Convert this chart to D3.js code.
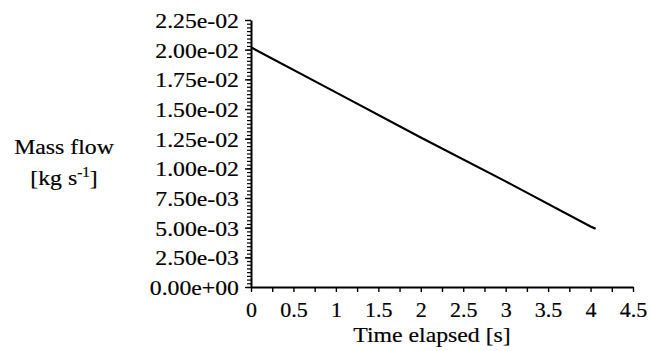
<!DOCTYPE html>
<html>
<head>
<meta charset="utf-8">
<script src="https://cdn.jsdelivr.net/npm/d3@7"></script>
<style>
  body { margin: 0; background: #fff; }
  text { font-family: "Liberation Serif", "Times New Roman", serif; fill: #000; stroke: #000; stroke-width: 0.2px; }
</style>
</head>
<body>
<script>
// values
const timeS = [0, 1, 2, 3, 4, 4.06];
const massFlow = [0.0202, 0.0164, 0.0126, 0.0089, 0.0051, 0.0049];
const xTicks = [0, 0.5, 1, 1.5, 2, 2.5, 3, 3.5, 4, 4.5];
const yTicks = [0, 0.0025, 0.005, 0.0075, 0.01, 0.0125, 0.015, 0.0175, 0.02, 0.0225];

const w = 651, h = 351;
const padL = 251, padR = 633, padT = 20, padB = 287;
const sx = 1.08; // the source type is a little wide

const svg = d3.select('body').append('svg')
  .attr('width', w)
  .attr('height', h);

const x = d3.scaleLinear().domain([0, 4.5]).range([padL, padR]);
const y = d3.scaleLinear().domain([0, 0.0225]).range([padB, padT]);

// minor ticks
const xMinor = d3.range(0, 4.5001, 0.25);
const yMinor = d3.range(0, 0.02251, 0.0025 / 8);

svg.append('g')
  .attr('transform', 'translate(' + padL + ',0)')
  .call(d3.axisLeft(y).tickValues(yMinor).tickSize(4).tickFormat(''))
  .call(g => g.select('.domain').remove())
  .selectAll('line').attr('stroke-width', 1.2);

const yAxis = svg.append('g')
  .attr('transform', 'translate(' + padL + ',0)')
  .call(d3.axisLeft(y).tickValues(yTicks).tickSize(6).tickSizeOuter(0)
    .tickFormat(d => d.toExponential(2).replace(/e([+-])(\d)$/, 'e$10$2')));
yAxis.select('.domain').attr('stroke-width', 2);
yAxis.selectAll('line').attr('stroke-width', 1.4);
yAxis.selectAll('text')
  .attr('x', -12 / sx)
  .attr('dy', '0.34em')
  .attr('transform', 'scale(' + sx + ',1)')
  .style('font-size', '22px');

const xAxis = svg.append('g')
  .attr('transform', 'translate(0,' + padB + ')')
  .call(d3.axisBottom(x).tickValues(xMinor).tickSize(5).tickSizeOuter(0)
    .tickFormat(d => xTicks.includes(d) ? d3.format('')(d) : ''));
xAxis.select('.domain').attr('stroke-width', 2);
xAxis.selectAll('line').attr('stroke-width', 1.4);
xAxis.selectAll('text')
  .attr('y', 14)
  .attr('dy', '0.71em')
  .style('font-size', '22px');

svg.selectAll('.domain').attr('stroke', '#000');

// the line
const pts = timeS.map((t, i) => [t, massFlow[i]]);
svg.append('path')
  .datum(pts)
  .attr('fill', 'none')
  .attr('stroke', '#000')
  .attr('stroke-width', 2.2)
  .attr('d', d3.line().x(d => x(d[0])).y(d => y(d[1])));

// axis titles
svg.append('text')
  .attr('transform', 'translate(432,342) scale(' + sx + ',1)')
  .attr('text-anchor', 'middle')
  .style('font-size', '22px')
  .text('Time elapsed [s]');

const yt = svg.append('g').attr('transform', 'translate(64,0) scale(' + sx + ',1)');
yt.append('text')
  .attr('y', 154)
  .attr('text-anchor', 'middle')
  .style('font-size', '22px')
  .text('Mass flow');
const yt2 = yt.append('text')
  .attr('y', 185)
  .attr('text-anchor', 'middle')
  .style('font-size', '22px');
yt2.append('tspan').text('[kg s');
yt2.append('tspan').attr('dy', -8).style('font-size', '14px').text('-1');
yt2.append('tspan').attr('dy', 8).text(']');
</script>
</body>
</html>
